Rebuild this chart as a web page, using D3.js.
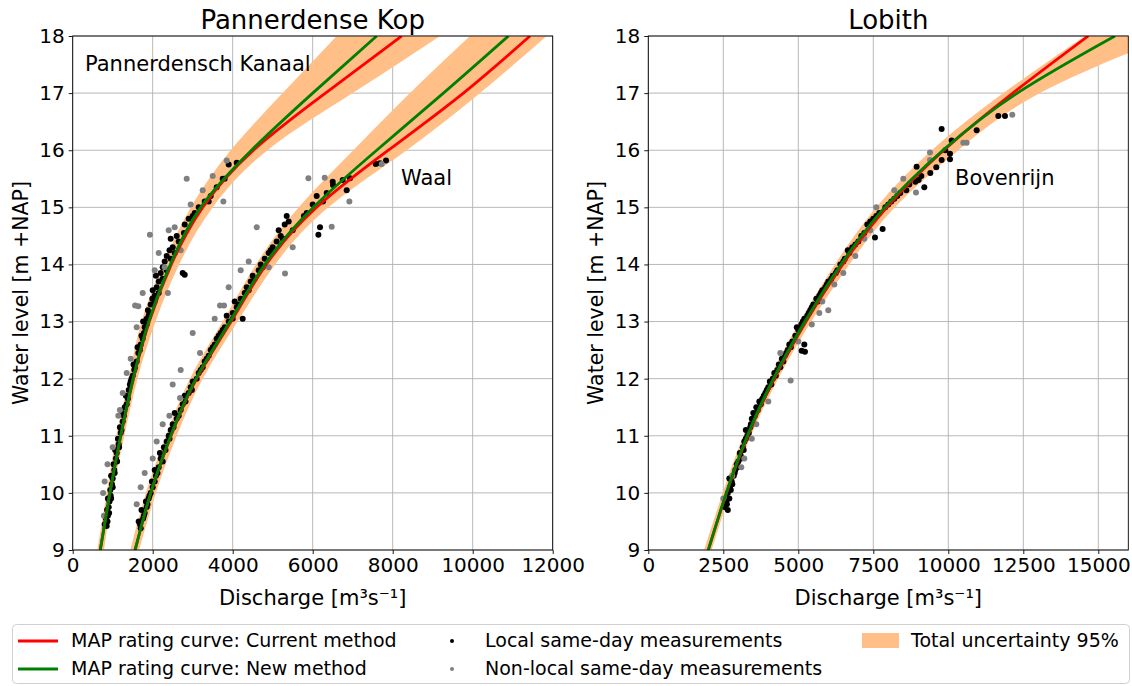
<!DOCTYPE html>
<html>
<head>
<meta charset="utf-8">
<script src="https://cdn.jsdelivr.net/npm/d3@7"></script>
<style>
body { margin: 0; background: #fff; }
text { font-family: "DejaVu Sans", sans-serif; fill: #000; }
</style>
</head>
<body>
<script>
var levels = [9, 10, 11, 12, 13, 14, 15, 16, 17, 18];

// Pannerdensch Kanaal
var pkGreen = [690, 930, 1200, 1510, 1900, 2440, 3200, 4470, 6000, 7600];
var pkRed   = [690, 930, 1205, 1520, 1915, 2465, 3250, 4520, 6320, 8225];
var pkLow   = [615, 850, 1090, 1400, 1720, 2260, 2955, 3950, 5250, 6600];
var pkHigh  = [783, 1000, 1290, 1620, 2070, 2660, 3500, 4870, 7000, 9183];

// Waal
var waGreen = [1560, 1950, 2450, 3080, 3930, 4800, 6017, 7600, 9267, 10892];
var waRed   = [1560, 1955, 2460, 3100, 3960, 4840, 6100, 7892, 9767, 11433];
var waLow   = [1440, 1830, 2330, 2930, 3750, 4580, 5650, 7017, 8433, 9933];
var waHigh  = [1660, 2080, 2600, 3250, 4120, 5060, 6392, 8350, 10183, 11850];

// Bovenrijn (Lobith)
var loGreen = [2000, 2600, 3300, 4170, 5220, 6420, 7880, 9820, 12300, 15556];
var loRed   = [2000, 2610, 3320, 4200, 5260, 6480, 7950, 9850, 12150, 14667];
var loLow   = [1860, 2480, 3170, 4030, 5050, 6220, 7600, 9450, 11833, 14556];
var loHigh  = [2110, 2720, 3420, 4330, 5430, 6700, 8220, 10330, 13056, 17400];

// measurements [discharge, water level]
var pkLocal = [[800,9.45],[850,9.42],[830,9.55],[880,9.6],[860,9.7],[900,9.75],[920,9.85],[880,9.9],[950,9.95],[940,10.05],[980,10.15],[1000,10.25],[960,10.3],[1040,10.4],[1020,10.5],[1080,10.6],[1100,10.7],[1060,10.75],[1150,10.85],[1130,10.95],[1200,11.05],[1180,11.15],[1250,11.25],[1240,11.4],[1300,11.5],[1350,11.55],[1330,11.7],[1400,11.8],[1430,11.9],[1470,12.0],[1500,12.05],[1540,12.15],[1520,12.25],[1600,12.3],[1640,12.45],[1620,12.55],[1700,12.6],[1720,12.75],[1780,12.8],[1800,12.9],[1760,13.0],[1850,13.05],[1900,13.1],[1880,13.2],[1950,13.3],[1990,13.4],[2050,13.45],[2000,13.55],[2100,13.6],[2150,13.7],[2080,13.8],[2200,13.85],[2250,13.95],[2300,14.05],[2350,14.15],[2420,14.25],[2500,14.3],[2450,14.45],[2600,14.5],[2650,14.4],[2780,14.55],[2800,14.7],[2900,14.8],[3050,14.9],[3150,15.0],[3300,15.1],[3450,15.2],[3600,15.35],[3750,15.5],[3800,15.5],[3900,15.75],[4100,15.78],[2750,13.85],[2800,13.82],[870,9.5],[910,9.65],[960,9.9],[1000,10.1],[1050,10.35],[1110,10.55],[1160,10.8],[1220,11.1],[1280,11.35],[1380,11.65],[1450,11.95],[1560,12.2],[1680,12.5],[1750,12.7],[1850,12.95],[1920,13.15],[2050,13.35],[2150,13.5],[2250,13.75],[2350,13.9],[2450,14.1],[2550,14.2],[3000,14.85],[3400,15.1]];
var pkOther = [[780,9.6],[760,10.0],[800,10.2],[870,10.5],[1000,10.8],[1140,11.35],[1180,11.45],[1250,11.75],[1350,12.1],[1450,12.35],[1600,12.9],[1560,13.28],[1640,13.27],[1750,13.5],[2050,13.9],[2150,14.2],[2300,13.95],[1930,14.52],[2400,14.6],[2550,14.65],[2850,15.5],[2950,15.05],[3250,15.3],[3767,15.1],[3850,15.82],[3500,15.55],[2700,14.25],[2380,13.5]];

var waLocal = [[1700,9.38],[1650,9.5],[1760,9.55],[1800,9.65],[1720,9.7],[1850,9.75],[1830,9.85],[1900,9.9],[1950,10.0],[2000,10.1],[1980,10.2],[2080,10.3],[2050,10.4],[2150,10.45],[2200,10.6],[2180,10.7],[2280,10.8],[2350,10.9],[2400,11.0],[2450,11.1],[2500,11.2],[2600,11.3],[2550,11.4],[2700,11.45],[2750,11.55],[2800,11.7],[2900,11.75],[2950,11.85],[3000,11.95],[3100,12.0],[3150,12.1],[3250,12.2],[3300,12.3],[3400,12.4],[3450,12.5],[3550,12.6],[3600,12.7],[3700,12.8],[3800,12.9],[3900,13.0],[3850,13.1],[4000,13.15],[4100,13.25],[4050,13.35],[4200,13.4],[4300,13.5],[4350,13.6],[4450,13.7],[4500,13.8],[4650,13.9],[4700,14.0],[4800,14.1],[4900,14.2],[5000,14.3],[5100,14.4],[5200,14.5],[5150,14.6],[5300,14.7],[5400,14.75],[6142,14.52],[6183,14.65],[5780,14.85],[5850,14.9],[6000,15.05],[6258,15.1],[6100,15.2],[6350,15.25],[6850,15.3],[6508,15.39],[6500,15.45],[6750,15.48],[6933,15.51],[7575,15.76],[7683,15.77],[7833,15.82],[4250,13.05],[5350,14.85],[1680,9.45],[1780,9.6],[1870,9.8],[1920,9.95],[2050,10.2],[2120,10.35],[2250,10.55],[2320,10.75],[2420,10.95],[2520,11.15],[2650,11.35],[2820,11.6],[2980,11.8],[3200,12.15],[3350,12.35],[3500,12.55],[3650,12.75],[3750,12.85],[4000,13.05],[4150,13.3],[4400,13.55],[4550,13.75],[4750,13.95],[4950,14.25],[5250,14.45],[5500,14.6]];
var waOther = [[1600,9.8],[1700,10.1],[1800,10.35],[2000,10.6],[2100,10.9],[2250,11.2],[2417,11.35],[2683,11.66],[2500,11.9],[2700,12.15],[3183,12.45],[3000,12.8],[3683,13.28],[3783,13.28],[3550,13.05],[3900,13.6],[4200,13.9],[4400,14.05],[5308,13.84],[4900,13.95],[5500,14.3],[5892,15.51],[6475,14.66],[6917,15.1],[7725,15.76],[6300,15.52],[4600,14.65]];

var loLocal = [[2550,9.75],[2650,9.7],[2600,9.85],[2700,9.9],[2650,10.0],[2750,10.05],[2800,10.15],[2700,10.25],[2850,10.3],[2900,10.4],[2950,10.5],[3000,10.55],[3100,10.6],[3050,10.7],[3150,10.8],[3200,10.9],[3300,11.0],[3250,11.1],[3400,11.15],[3450,11.3],[3500,11.4],[3600,11.5],[3700,11.6],[3800,11.65],[3900,11.75],[4000,11.85],[4100,11.9],[4150,12.0],[4250,12.05],[4300,12.15],[4400,12.2],[4500,12.3],[4550,12.4],[4650,12.5],[4750,12.55],[4800,12.65],[5111,12.49],[5222,12.47],[4900,12.75],[5000,12.85],[5100,12.95],[5200,13.05],[5300,13.1],[5400,13.2],[5500,13.3],[5600,13.4],[5700,13.45],[5800,13.55],[5900,13.6],[6000,13.7],[6150,13.8],[6300,13.9],[6400,14.0],[6550,14.1],[6650,14.25],[6800,14.3],[7000,14.4],[7100,14.5],[7556,14.47],[7811,14.62],[7300,14.7],[7500,14.8],[7700,14.9],[7900,15.0],[8100,15.1],[8300,15.2],[8600,15.3],[8900,15.45],[9200,15.35],[9011,15.48],[8944,15.71],[9400,15.6],[9600,15.7],[9778,15.83],[10056,15.84],[10056,15.94],[9900,16.0],[10111,16.17],[9778,16.37],[10946,16.35],[11667,16.6],[11889,16.6],[2620,9.8],[2720,10.1],[2780,10.2],[2880,10.35],[2980,10.45],[3080,10.65],[3180,10.75],[3250,10.95],[3350,11.05],[3420,11.2],[3550,11.35],[3650,11.45],[3750,11.55],[3850,11.7],[3950,11.8],[4050,11.95],[4200,12.1],[4350,12.25],[4450,12.35],[4600,12.45],[4700,12.6],[5200,12.6],[4950,12.9],[5150,13.0],[5350,13.15],[5450,13.25],[5650,13.35],[5750,13.5],[5950,13.65],[6100,13.75],[6250,13.85],[6500,14.05],[6700,14.2],[6900,14.35],[7200,14.55],[7400,14.75],[7600,14.85],[8000,15.05],[8200,15.15],[8400,15.25],[8700,15.4],[9100,15.55]];
var loOther = [[2500,9.9],[2800,10.3],[3100,10.45],[3200,10.6],[3450,10.95],[3600,11.2],[4000,11.6],[4745,11.97],[4400,12.45],[5000,12.65],[5450,12.95],[5700,13.15],[5800,13.35],[6200,13.65],[6500,13.85],[6900,14.15],[7400,14.6],[7200,14.45],[7600,15.0],[8200,15.3],[8922,15.26],[8500,15.5],[9389,15.96],[9389,15.83],[10500,16.13],[10611,16.13],[12133,16.62],[6000,13.2]];

var yTicks = [9, 10, 11, 12, 13, 14, 15, 16, 17, 18];
var xTicksLeft = [0, 2000, 4000, 6000, 8000, 10000, 12000];
var xTicksRight = [0, 2500, 5000, 7500, 10000, 12500, 15000];

var cBand = '#ffbf87', cRed = '#ff0000', cGreen = '#008000', cGrey = '#808080';

var svg = d3.select('body').append('svg').attr('width', 1132).attr('height', 686);

var yTop = 36, yBottom = 550;
var y = d3.scaleLinear().domain([9, 18]).range([yBottom, yTop]);

function panel(id, left, right, xmax, xticks, title, rivers) {
    var x = d3.scaleLinear().domain([0, xmax]).range([left, right]);
    var g = svg.append('g');

    svg.append('clipPath').attr('id', id)
        .append('rect').attr('x', left).attr('y', yTop).attr('width', right - left).attr('height', yBottom - yTop);

    // grid
    g.selectAll('line.gx').data(xticks).enter().append('line')
        .attr('x1', function(d){ return x(d); }).attr('x2', function(d){ return x(d); })
        .attr('y1', yTop).attr('y2', yBottom)
        .attr('stroke', '#b0b0b0').attr('stroke-width', 0.9);
    g.selectAll('line.gy').data(yTicks).enter().append('line')
        .attr('y1', function(d){ return y(d); }).attr('y2', function(d){ return y(d); })
        .attr('x1', left).attr('x2', right)
        .attr('stroke', '#b0b0b0').attr('stroke-width', 0.9);

    var plot = g.append('g').attr('clip-path', 'url(#' + id + ')');

    var band = d3.area().curve(d3.curveNatural)
        .y(function(d, i){ return y(levels[i]); })
        .x0(function(d){ return x(d[0]); })
        .x1(function(d){ return x(d[1]); });
    var line = d3.line().curve(d3.curveNatural)
        .y(function(d, i){ return y(levels[i]); })
        .x(function(d){ return x(d); });

    rivers.forEach(function(r){
        plot.append('path').datum(d3.zip(r.low, r.high)).attr('d', band).attr('fill', cBand);
    });
    rivers.forEach(function(r){
        plot.selectAll(null).data(r.local).enter().append('circle')
            .attr('cx', function(d){ return x(d[0]); }).attr('cy', function(d){ return y(d[1]); })
            .attr('r', 3).attr('fill', '#000');
        plot.selectAll(null).data(r.other).enter().append('circle')
            .attr('cx', function(d){ return x(d[0]); }).attr('cy', function(d){ return y(d[1]); })
            .attr('r', 3).attr('fill', cGrey);
    });
    rivers.forEach(function(r){
        plot.append('path').datum(r.red).attr('d', line).attr('fill', 'none')
            .attr('stroke', cRed).attr('stroke-width', 2.8);
        plot.append('path').datum(r.green).attr('d', line).attr('fill', 'none')
            .attr('stroke', cGreen).attr('stroke-width', 2.8);
    });

    // axes
    var ax = g.append('g').attr('transform', 'translate(0,' + yBottom + ')')
        .call(d3.axisBottom(x).tickValues(xticks).tickSize(4).tickPadding(4).tickFormat(d3.format('d')));
    var ay = g.append('g').attr('transform', 'translate(' + left + ',0)')
        .call(d3.axisLeft(y).tickValues(yTicks).tickSize(4).tickPadding(4));
    [ax, ay].forEach(function(a){
        a.select('.domain').remove();
        a.selectAll('text').attr('font-size', 20).attr('font-family', '"DejaVu Sans", sans-serif').attr('fill', '#000');
        a.selectAll('line').attr('stroke', '#000').attr('stroke-width', 0.9);
    });

    g.append('rect').attr('x', left).attr('y', yTop).attr('width', right - left).attr('height', yBottom - yTop)
        .attr('fill', 'none').attr('stroke', '#000').attr('stroke-width', 0.9);

    g.append('text').attr('x', (left + right) / 2).attr('y', 29).attr('text-anchor', 'middle')
        .attr('font-size', 26).text(title);
    g.append('text').attr('x', (left + right) / 2).attr('y', 605).attr('text-anchor', 'middle')
        .attr('font-size', 21).text('Discharge [m³s⁻¹]');
    g.append('text').attr('transform', 'translate(' + (left - 45) + ',' + ((yTop + yBottom) / 2) + ') rotate(-90)')
        .attr('text-anchor', 'middle').attr('font-size', 20.5).text('Water level [m +NAP]');

    rivers.forEach(function(r){
        g.append('text').attr('x', x(r.label[0])).attr('y', y(r.label[1]))
            .attr('font-size', 21).text(r.name);
    });
}

panel('clipL', 72.7, 552.7, 12000, xTicksLeft, 'Pannerdense Kop', [
    { name: 'Pannerdensch Kanaal', label: [308, 17.39], low: pkLow, high: pkHigh, red: pkRed, green: pkGreen, local: pkLocal, other: pkOther },
    { name: 'Waal', label: [8208, 15.39], low: waLow, high: waHigh, red: waRed, green: waGreen, local: waLocal, other: waOther }
]);
panel('clipR', 648.3, 1128.3, 16000, xTicksRight, 'Lobith', [
    { name: 'Bovenrijn', label: [10223, 15.39], low: loLow, high: loHigh, red: loRed, green: loGreen, local: loLocal, other: loOther }
]);

// legend
var lg = svg.append('g');
lg.append('rect').attr('x', 12.5).attr('y', 624.5).attr('width', 1117).attr('height', 59).attr('rx', 4)
    .attr('fill', '#fff').attr('stroke', '#d0d0d0');
var items = [
    { kind: 'line', color: cRed, text: 'MAP rating curve: Current method', x: 18, y: 641 },
    { kind: 'line', color: cGreen, text: 'MAP rating curve: New method', x: 18, y: 669 },
    { kind: 'dot', color: '#000', text: 'Local same-day measurements', x: 432, y: 641 },
    { kind: 'dot', color: cGrey, text: 'Non-local same-day measurements', x: 432, y: 669 },
    { kind: 'patch', color: cBand, text: 'Total uncertainty 95%', x: 858, y: 641 }
];
items.forEach(function(d){
    if (d.kind === 'line') {
        lg.append('line').attr('x1', d.x).attr('x2', d.x + 40).attr('y1', d.y).attr('y2', d.y)
            .attr('stroke', d.color).attr('stroke-width', 3);
    } else if (d.kind === 'dot') {
        lg.append('circle').attr('cx', d.x + 20).attr('cy', d.y).attr('r', 2).attr('fill', d.color);
    } else {
        lg.append('rect').attr('x', d.x + 4).attr('y', d.y - 8).attr('width', 37).attr('height', 15).attr('fill', d.color);
    }
    lg.append('text').attr('x', d.x + 53).attr('y', d.y + 6).attr('font-size', 19).text(d.text);
});
</script>
</body>
</html>
